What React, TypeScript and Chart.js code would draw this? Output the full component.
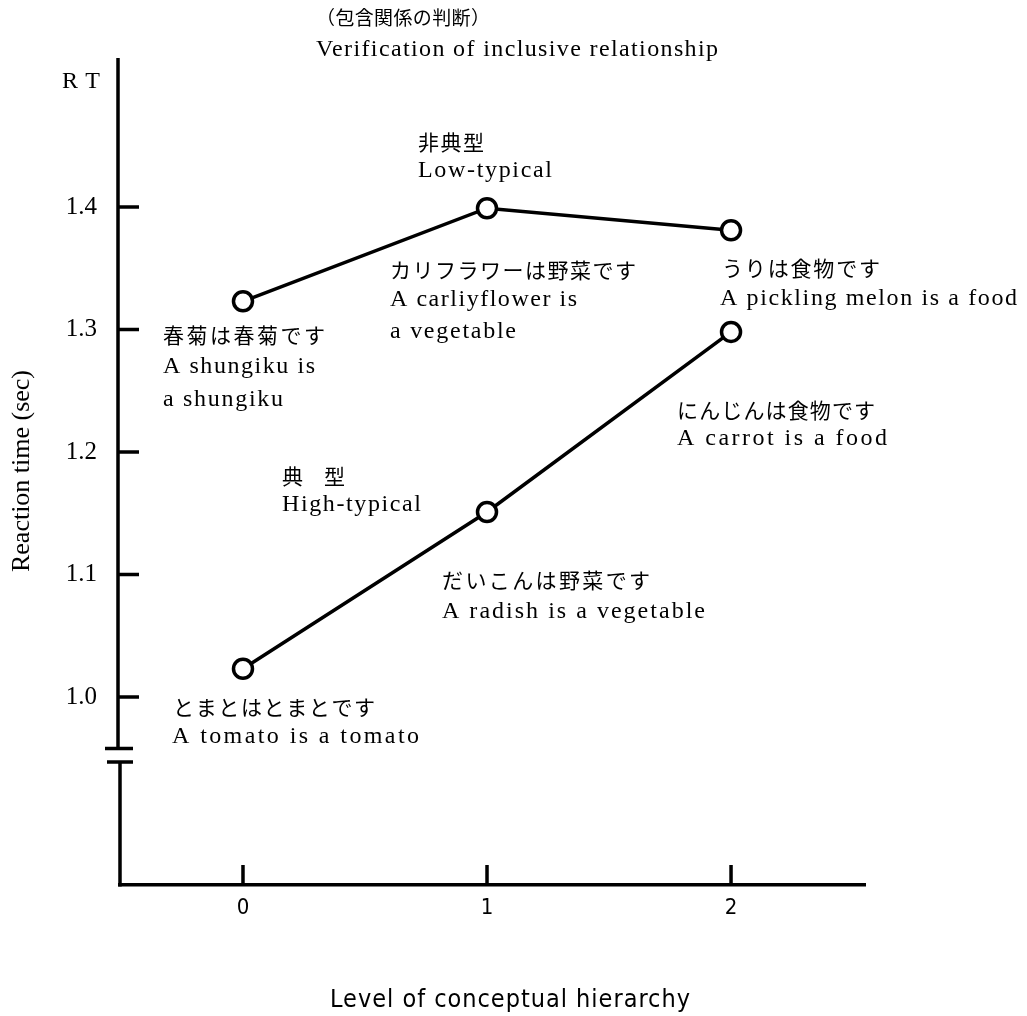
import React, { useEffect, useRef } from 'react';
import { Chart, registerables } from 'chart.js';

Chart.register(...registerables);

// ---- data ----
const levels = [0, 1, 2];
const lowTypicalRT = [1.323, 1.399, 1.381];
const highTypicalRT = [1.023, 1.151, 1.298];
const yTickValues = [1.0, 1.1, 1.2, 1.3, 1.4];
const xTickValues = [0, 1, 2];
const seriesNames = ['Low-typical', 'High-typical'];
const yBreakValues = [0.958, 0.947];

const SERIF = '"Liberation Serif", "Noto Sans CJK JP", serif';
const JP = '"Noto Sans CJK JP", "Noto Sans CJK SC", sans-serif';
const NARROW = '"Liberation Sans Narrow", "DejaVu Sans Condensed", "Liberation Sans", sans-serif';

type Note = { t: string; x: number; y: number; w: number; font: string; rot?: boolean; center?: boolean };

const notes: Note[] = [
  { t: '（包含関係の判断）', x: 316, y: 18, w: 174, font: `19px ${JP}` },
  { t: 'Verification of inclusive relationship', x: 316, y: 50, w: 402, font: `24px ${SERIF}` },
  { t: 'RT', x: 62, y: 82, w: 38, font: `24px ${SERIF}` },
  { t: '非典型', x: 418, y: 142, w: 66, font: `21px ${JP}` },
  { t: 'Low-typical', x: 418, y: 171, w: 134, font: `24px ${SERIF}` },
  { t: 'カリフラワーは野菜です', x: 390, y: 270, w: 246, font: `21px ${JP}` },
  { t: 'A carliyflower is', x: 390, y: 300, w: 187, font: `24px ${SERIF}` },
  { t: 'a vegetable', x: 390, y: 332, w: 126, font: `24px ${SERIF}` },
  { t: 'うりは食物です', x: 722, y: 268, w: 158, font: `21px ${JP}` },
  { t: 'A pickling melon is a food', x: 720, y: 299, w: 297, font: `24px ${SERIF}` },
  { t: '春菊は春菊です', x: 163, y: 335, w: 162, font: `21px ${JP}` },
  { t: 'A shungiku is', x: 163, y: 367, w: 152, font: `24px ${SERIF}` },
  { t: 'a shungiku', x: 163, y: 400, w: 120, font: `24px ${SERIF}` },
  { t: '典　型', x: 282, y: 476, w: 63, font: `21px ${JP}` },
  { t: 'High-typical', x: 282, y: 505, w: 139, font: `24px ${SERIF}` },
  { t: 'だいこんは野菜です', x: 442, y: 580, w: 208, font: `21px ${JP}` },
  { t: 'A radish is a vegetable', x: 442, y: 612, w: 263, font: `24px ${SERIF}` },
  { t: 'とまとはとまとです', x: 173, y: 707, w: 202, font: `21px ${JP}` },
  { t: 'A tomato is a tomato', x: 172, y: 737, w: 247, font: `24px ${SERIF}` },
  { t: 'にんじんは食物です', x: 677, y: 410, w: 198, font: `21px ${JP}` },
  { t: 'A carrot is a food', x: 677, y: 439, w: 210, font: `24px ${SERIF}` },
  { t: 'Reaction time (sec)', x: 22, y: 471, w: 202, font: `26px ${SERIF}`, rot: true, center: true },
  { t: 'Level of conceptual hierarchy', x: 510, y: 1000, w: 360, font: `25px ${NARROW}`, center: true },
];

function drawFitted(ctx: CanvasRenderingContext2D, n: Note) {
  ctx.save();
  ctx.font = n.font;
  ctx.fillStyle = '#000';
  ctx.textBaseline = 'middle';
  ctx.textAlign = 'left';
  (ctx as any).letterSpacing = '0px';
  const chars = Array.from(n.t).length;
  const m = ctx.measureText(n.t).width;
  let ls = chars > 1 ? (n.w - m) / (chars - 1) : 0;
  if (ls < -1.5) ls = -1.5;
  (ctx as any).letterSpacing = `${ls}px`;
  if (n.rot) {
    ctx.translate(n.x, n.y);
    ctx.rotate(-Math.PI / 2);
    ctx.fillText(n.t, -n.w / 2, 0);
  } else {
    const x0 = n.center ? n.x - n.w / 2 : n.x;
    ctx.fillText(n.t, x0, n.y);
  }
  ctx.restore();
}

const axesPlugin = {
  id: 'customAxes',
  afterDraw(chart: any) {
    const { ctx, chartArea, scales } = chart;
    const xs = scales.x;
    const ys = scales.y;
    const left = chartArea.left;
    const bottom = chartArea.bottom;
    ctx.save();
    ctx.strokeStyle = '#000';
    ctx.lineWidth = 3.5;
    ctx.lineCap = 'butt';
    const bUp = ys.getPixelForValue(yBreakValues[0]);
    const bLo = ys.getPixelForValue(yBreakValues[1]);
    // y-axis line with break
    ctx.beginPath();
    ctx.moveTo(left - 2, chartArea.top);
    ctx.lineTo(left - 2, bUp);
    ctx.moveTo(left, bLo);
    ctx.lineTo(left, bottom + 1.5);
    ctx.stroke();
    // break marks
    ctx.beginPath();
    ctx.moveTo(left - 15, bUp);
    ctx.lineTo(left + 13, bUp);
    ctx.moveTo(left - 13, bLo);
    ctx.lineTo(left + 13, bLo);
    ctx.stroke();
    // y ticks (inward)
    ctx.beginPath();
    yTickValues.forEach((v) => {
      const py = ys.getPixelForValue(v);
      ctx.moveTo(left - 2, py);
      ctx.lineTo(left + 19, py);
    });
    ctx.stroke();
    // x ticks (inward)
    ctx.beginPath();
    xTickValues.forEach((v) => {
      const px = xs.getPixelForValue(v);
      ctx.moveTo(px, bottom);
      ctx.lineTo(px, bottom - 20);
    });
    ctx.stroke();
    ctx.restore();
    notes.forEach((n) => drawFitted(ctx, n));
  },
};

export default function App() {
  const ref = useRef<HTMLCanvasElement | null>(null);
  useEffect(() => {
    if (!ref.current) return;
    const mk = (vals: number[]) => levels.map((x, i) => ({ x, y: vals[i] }));
    const dsStyle = {
      borderColor: '#000',
      borderWidth: 3.5,
      pointRadius: 9.5,
      pointBorderWidth: 3.5,
      pointBackgroundColor: '#fff',
      pointBorderColor: '#000',
      fill: false,
      tension: 0,
    };
    const chart = new Chart(ref.current, {
      type: 'line',
      data: {
        datasets: [
          { label: seriesNames[0], data: mk(lowTypicalRT), ...dsStyle },
          { label: seriesNames[1], data: mk(highTypicalRT), ...dsStyle },
        ],
      },
      options: {
        animation: false,
        responsive: true,
        maintainAspectRatio: false,
        layout: { padding: { left: 0, right: 162, top: 58, bottom: 0 } },
        plugins: { legend: { display: false }, tooltip: { enabled: false }, title: { display: false } },
        scales: {
          x: {
            type: 'linear',
            min: -0.504,
            max: 2.549,
            afterBuildTicks: (s: any) => {
              s.ticks = xTickValues.map((v) => ({ value: v }));
            },
            afterFit: (s: any) => {
              s.height = 131;
            },
            ticks: {
              color: '#000',
              padding: 10,
              font: { family: NARROW, size: 22 },
              autoSkip: false,
              maxRotation: 0,
              callback: (v: any) => String(v),
            },
            grid: { display: true, drawOnChartArea: false, drawTicks: false },
            border: { display: true, color: '#000', width: 3.5 },
          },
          y: {
            type: 'linear',
            min: 0.8465,
            max: 1.5216,
            afterBuildTicks: (s: any) => {
              s.ticks = yTickValues.map((v) => ({ value: v }));
            },
            afterFit: (s: any) => {
              s.width = 120;
            },
            ticks: {
              color: '#000',
              padding: 23,
              font: { family: SERIF, size: 25 },
              autoSkip: false,
              callback: (v: any) => Number(v).toFixed(1),
            },
            grid: { display: true, drawOnChartArea: false, drawTicks: false },
            border: { display: false },
          },
        },
      },
      plugins: [axesPlugin],
    });
    return () => chart.destroy();
  }, []);
  return (
    <div style={{ position: 'absolute', left: 0, top: 0, width: 1027, height: 1016, background: '#fff' }}>
      <canvas ref={ref} />
    </div>
  );
}
